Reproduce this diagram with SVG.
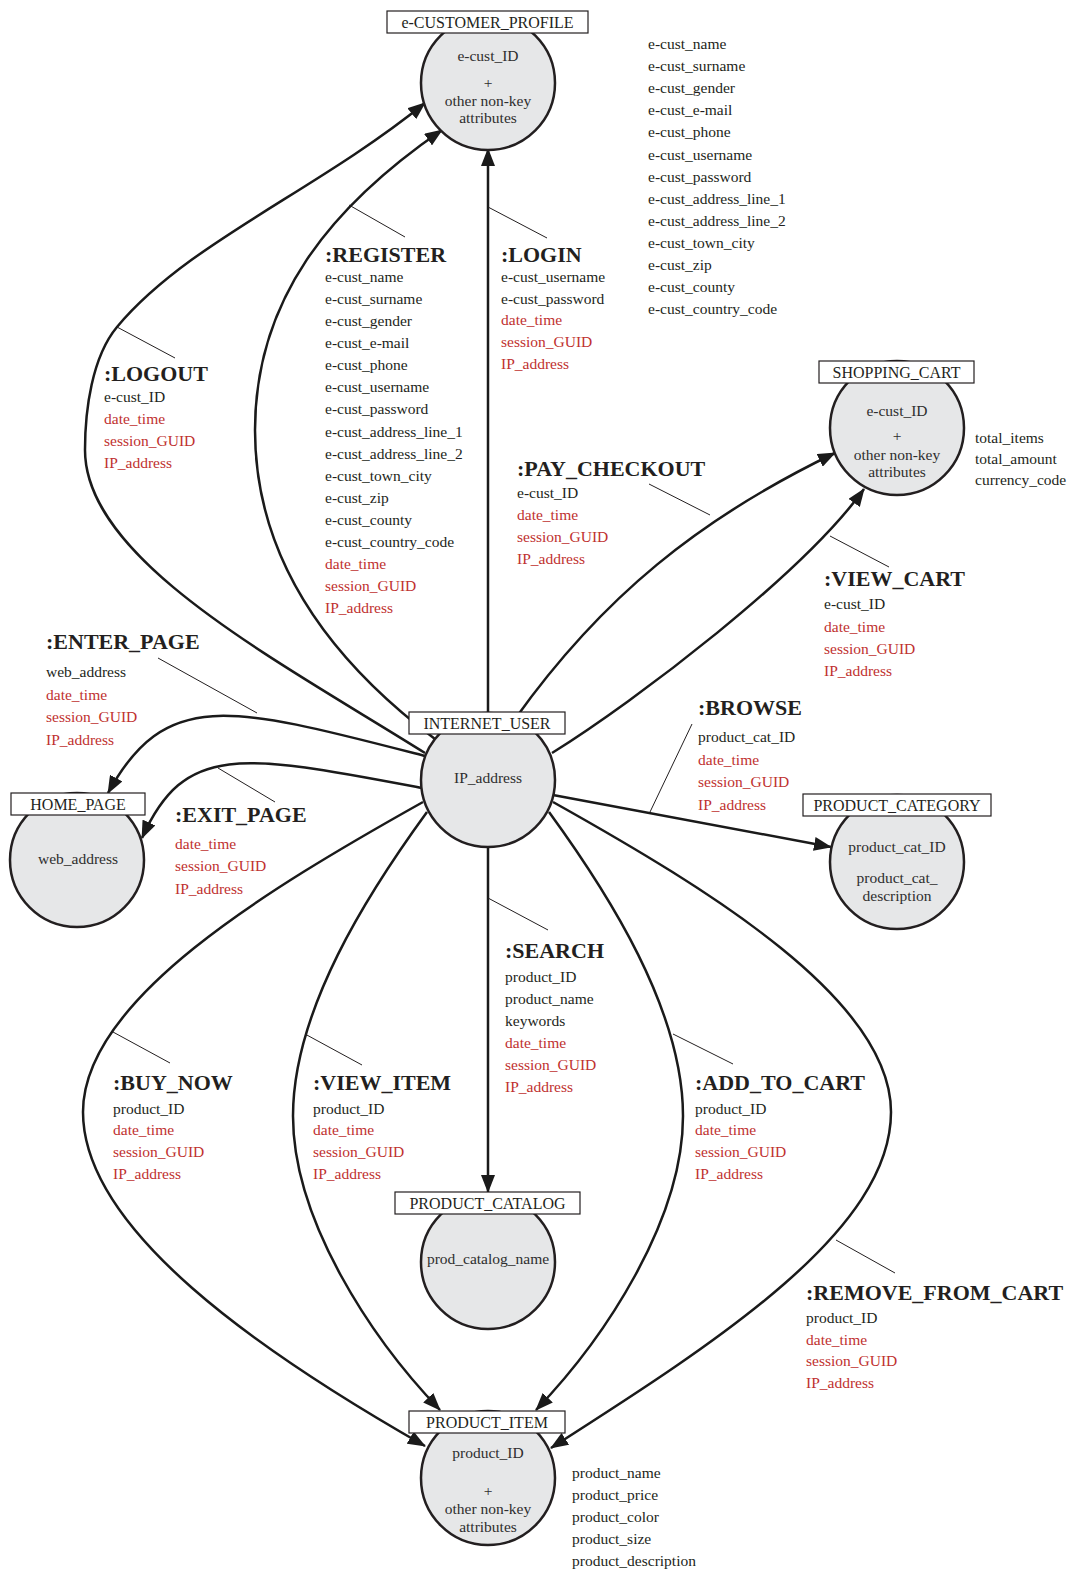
<svg xmlns="http://www.w3.org/2000/svg" width="1073" height="1571" viewBox="0 0 1073 1571">
<style>
text{font-family:"Liberation Serif","Times New Roman",serif;fill:#231f20}
.a{font-size:15.5px}
.r{fill:#c0312f}
.h{font-size:22px;font-weight:bold}
.n{font-size:15.5px;fill:#2e2e2e;text-anchor:middle}
.b{font-size:16px;text-anchor:middle}
.ent{fill:#e6e7e8;stroke:#231f20;stroke-width:2.5}
.box{fill:#fff;stroke:#231f20;stroke-width:1.2}
.c{fill:none;stroke:#1a1a1a;stroke-width:2.5}
.ca{marker-end:url(#arr)}
.co{fill:none;stroke:#231f20;stroke-width:1}
</style>
<defs>
<marker id="arr" viewBox="0 0 18 14" refX="17" refY="7" markerWidth="18" markerHeight="14" markerUnits="userSpaceOnUse" orient="auto">
<path d="M0,0 L18,7 L0,14 z" fill="#1a1a1a"/>
</marker>
</defs>
<rect width="1073" height="1571" fill="#fff"/>

<g id="connectors">
<path id="c-logout" class="c ca" d="M425,753 C275,659 85,560 85,450 C85,410 92,357 117,327 C187,243 315,192 425,103"/>
<path id="c-register" class="c ca" d="M435,739 C330,660 255,560 255,430 C255,300 330,207 442,130"/>
<path id="c-login" class="c ca" d="M488,713 L488,149"/>
<path id="c-pay" class="c ca" d="M515,719 C602,597 700,518 835,453"/>
<path id="c-viewcart" class="c ca" d="M552,753 C637,700 804,573 864,489"/>
<path id="c-enter" class="c ca" d="M425,756 C231,706 166,687 108,793"/>
<path id="c-exit" class="c ca" d="M422,788 C242,754 185,742 142,838"/>
<path id="c-browse" class="c ca" d="M553,795 L831,847"/>
<path id="c-search" class="c ca" d="M488,847 L488,1192"/>
<path id="c-buynow" class="c ca" d="M423,802 C266,890 83,1000 83,1112 C83,1230 260,1352 425,1446"/>
<path id="c-viewitem" class="c ca" d="M427,812 C368,893 293,1010 293,1116 C293,1220 371,1338 440,1410"/>
<path id="c-addcart" class="c ca" d="M549,812 C608,893 683,1010 683,1116 C683,1220 605,1338 536,1410"/>
<path id="c-remove" class="c ca" d="M553,802 C710,890 891,1000 891,1112 C891,1230 720,1340 551,1448"/>
<g id="callouts">
<line class="co" x1="117" y1="327" x2="175" y2="358"/>
<line class="co" x1="349" y1="205" x2="405" y2="237"/>
<line class="co" x1="488" y1="207" x2="547" y2="238"/>
<line class="co" x1="649" y1="484" x2="710" y2="515"/>
<line class="co" x1="830" y1="536" x2="889" y2="567"/>
<line class="co" x1="158" y1="658" x2="257" y2="713"/>
<line class="co" x1="218" y1="768" x2="275" y2="802"/>
<line class="co" x1="650" y1="812" x2="692" y2="724"/>
<line class="co" x1="488" y1="898" x2="548" y2="930"/>
<line class="co" x1="113" y1="1032" x2="170" y2="1063"/>
<line class="co" x1="305" y1="1034" x2="362" y2="1065"/>
<line class="co" x1="673" y1="1034" x2="733" y2="1064"/>
<line class="co" x1="836" y1="1240" x2="895" y2="1273"/>
</g>
</g>

<g id="labels">
<g id="l-register">
<text class="h" x="325" y="262">:REGISTER</text>
<text class="a" x="325" y="282">e-cust_name</text>
<text class="a" x="325" y="304">e-cust_surname</text>
<text class="a" x="325" y="326">e-cust_gender</text>
<text class="a" x="325" y="348">e-cust_e-mail</text>
<text class="a" x="325" y="370">e-cust_phone</text>
<text class="a" x="325" y="392">e-cust_username</text>
<text class="a" x="325" y="414">e-cust_password</text>
<text class="a" x="325" y="436.5">e-cust_address_line_1</text>
<text class="a" x="325" y="458.5">e-cust_address_line_2</text>
<text class="a" x="325" y="480.5">e-cust_town_city</text>
<text class="a" x="325" y="502.5">e-cust_zip</text>
<text class="a" x="325" y="525">e-cust_county</text>
<text class="a" x="325" y="547">e-cust_country_code</text>
<text class="a r" x="325" y="569">date_time</text>
<text class="a r" x="325" y="591">session_GUID</text>
<text class="a r" x="325" y="613">IP_address</text>
</g>
<g id="l-login">
<text class="h" x="501" y="262">:LOGIN</text>
<text class="a" x="501" y="282">e-cust_username</text>
<text class="a" x="501" y="304">e-cust_password</text>
<text class="a r" x="501" y="325">date_time</text>
<text class="a r" x="501" y="347">session_GUID</text>
<text class="a r" x="501" y="369">IP_address</text>
</g>
<g id="l-logout">
<text class="h" x="104" y="381">:LOGOUT</text>
<text class="a" x="104" y="402">e-cust_ID</text>
<text class="a r" x="104" y="424">date_time</text>
<text class="a r" x="104" y="446">session_GUID</text>
<text class="a r" x="104" y="468">IP_address</text>
</g>
<g id="l-pay">
<text class="h" x="517" y="476">:PAY_CHECKOUT</text>
<text class="a" x="517" y="498">e-cust_ID</text>
<text class="a r" x="517" y="520">date_time</text>
<text class="a r" x="517" y="542">session_GUID</text>
<text class="a r" x="517" y="564">IP_address</text>
</g>
<g id="l-viewcart">
<text class="h" x="824" y="586">:VIEW_CART</text>
<text class="a" x="824" y="609">e-cust_ID</text>
<text class="a r" x="824" y="632">date_time</text>
<text class="a r" x="824" y="654">session_GUID</text>
<text class="a r" x="824" y="676">IP_address</text>
</g>
<g id="l-enter">
<text class="h" x="46" y="649">:ENTER_PAGE</text>
<text class="a" x="46" y="677">web_address</text>
<text class="a r" x="46" y="700">date_time</text>
<text class="a r" x="46" y="722">session_GUID</text>
<text class="a r" x="46" y="745">IP_address</text>
</g>
<g id="l-exit">
<text class="h" x="175" y="822">:EXIT_PAGE</text>
<text class="a r" x="175" y="849">date_time</text>
<text class="a r" x="175" y="871">session_GUID</text>
<text class="a r" x="175" y="894">IP_address</text>
</g>
<g id="l-browse">
<text class="h" x="698" y="715">:BROWSE</text>
<text class="a" x="698" y="742">product_cat_ID</text>
<text class="a r" x="698" y="765">date_time</text>
<text class="a r" x="698" y="787">session_GUID</text>
<text class="a r" x="698" y="810">IP_address</text>
</g>
<g id="l-search">
<text class="h" x="505" y="958">:SEARCH</text>
<text class="a" x="505" y="982">product_ID</text>
<text class="a" x="505" y="1004">product_name</text>
<text class="a" x="505" y="1026">keywords</text>
<text class="a r" x="505" y="1048">date_time</text>
<text class="a r" x="505" y="1070">session_GUID</text>
<text class="a r" x="505" y="1092">IP_address</text>
</g>
<g id="l-buynow">
<text class="h" x="113" y="1090">:BUY_NOW</text>
<text class="a" x="113" y="1114">product_ID</text>
<text class="a r" x="113" y="1135">date_time</text>
<text class="a r" x="113" y="1157">session_GUID</text>
<text class="a r" x="113" y="1179">IP_address</text>
</g>
<g id="l-viewitem">
<text class="h" x="313" y="1090">:VIEW_ITEM</text>
<text class="a" x="313" y="1114">product_ID</text>
<text class="a r" x="313" y="1135">date_time</text>
<text class="a r" x="313" y="1157">session_GUID</text>
<text class="a r" x="313" y="1179">IP_address</text>
</g>
<g id="l-addcart">
<text class="h" x="695" y="1090">:ADD_TO_CART</text>
<text class="a" x="695" y="1114">product_ID</text>
<text class="a r" x="695" y="1135">date_time</text>
<text class="a r" x="695" y="1157">session_GUID</text>
<text class="a r" x="695" y="1179">IP_address</text>
</g>
<g id="l-remove">
<text class="h" x="806" y="1300">:REMOVE_FROM_CART</text>
<text class="a" x="806" y="1323">product_ID</text>
<text class="a r" x="806" y="1345">date_time</text>
<text class="a r" x="806" y="1366">session_GUID</text>
<text class="a r" x="806" y="1388">IP_address</text>
</g>
</g>

<g id="node-e-customer-profile">
<circle class="ent" cx="488" cy="83" r="67"/>
<rect class="box" x="387" y="11" width="201" height="22"/>
<text class="b" x="487.5" y="28">e-CUSTOMER_PROFILE</text>
<text class="n" x="488" y="61">e-cust_ID</text>
<text class="n" x="488" y="88">+</text>
<text class="n" x="488" y="106">other non-key</text>
<text class="n" x="488" y="123">attributes</text>
<text class="a" x="648" y="49">e-cust_name</text>
<text class="a" x="648" y="71">e-cust_surname</text>
<text class="a" x="648" y="93">e-cust_gender</text>
<text class="a" x="648" y="115">e-cust_e-mail</text>
<text class="a" x="648" y="137">e-cust_phone</text>
<text class="a" x="648" y="159.5">e-cust_username</text>
<text class="a" x="648" y="181.5">e-cust_password</text>
<text class="a" x="648" y="203.5">e-cust_address_line_1</text>
<text class="a" x="648" y="225.5">e-cust_address_line_2</text>
<text class="a" x="648" y="248">e-cust_town_city</text>
<text class="a" x="648" y="270">e-cust_zip</text>
<text class="a" x="648" y="292">e-cust_county</text>
<text class="a" x="648" y="314">e-cust_country_code</text>
</g>

<g id="node-shopping-cart">
<circle class="ent" cx="897" cy="428" r="67"/>
<rect class="box" x="819" y="361" width="155" height="22"/>
<text class="b" x="896.5" y="378">SHOPPING_CART</text>
<text class="n" x="897" y="416">e-cust_ID</text>
<text class="n" x="897" y="441">+</text>
<text class="n" x="897" y="460">other non-key</text>
<text class="n" x="897" y="477">attributes</text>
<text class="a" x="975" y="443">total_items</text>
<text class="a" x="975" y="464">total_amount</text>
<text class="a" x="975" y="485">currency_code</text>
</g>

<g id="node-internet-user">
<circle class="ent" cx="488" cy="780" r="67"/>
<rect class="box" x="409" y="712" width="156" height="22"/>
<text class="b" x="487" y="729">INTERNET_USER</text>
<text class="n" x="488" y="783">IP_address</text>
</g>

<g id="node-home-page">
<circle class="ent" cx="77" cy="860" r="67"/>
<rect class="box" x="11" y="793" width="134" height="22"/>
<text class="b" x="78" y="810">HOME_PAGE</text>
<text class="n" x="78" y="864">web_address</text>
</g>

<g id="node-product-category">
<circle class="ent" cx="897" cy="862" r="67"/>
<rect class="box" x="803" y="794" width="188" height="22"/>
<text class="b" x="897" y="811">PRODUCT_CATEGORY</text>
<text class="n" x="897" y="852">product_cat_ID</text>
<text class="n" x="897" y="883">product_cat_</text>
<text class="n" x="897" y="901">description</text>
</g>

<g id="node-product-catalog">
<circle class="ent" cx="488" cy="1262" r="67"/>
<rect class="box" x="395" y="1192" width="185" height="22"/>
<text class="b" x="487.5" y="1209">PRODUCT_CATALOG</text>
<text class="n" x="488" y="1264">prod_catalog_name</text>
</g>

<g id="node-product-item">
<circle class="ent" cx="488" cy="1478" r="67"/>
<rect class="box" x="409" y="1411" width="156" height="22"/>
<text class="b" x="487" y="1428">PRODUCT_ITEM</text>
<text class="n" x="488" y="1458">product_ID</text>
<text class="n" x="488" y="1496">+</text>
<text class="n" x="488" y="1514">other non-key</text>
<text class="n" x="488" y="1532">attributes</text>
<text class="a" x="572" y="1478">product_name</text>
<text class="a" x="572" y="1500">product_price</text>
<text class="a" x="572" y="1522">product_color</text>
<text class="a" x="572" y="1544">product_size</text>
<text class="a" x="572" y="1566">product_description</text>
</g>
</svg>
